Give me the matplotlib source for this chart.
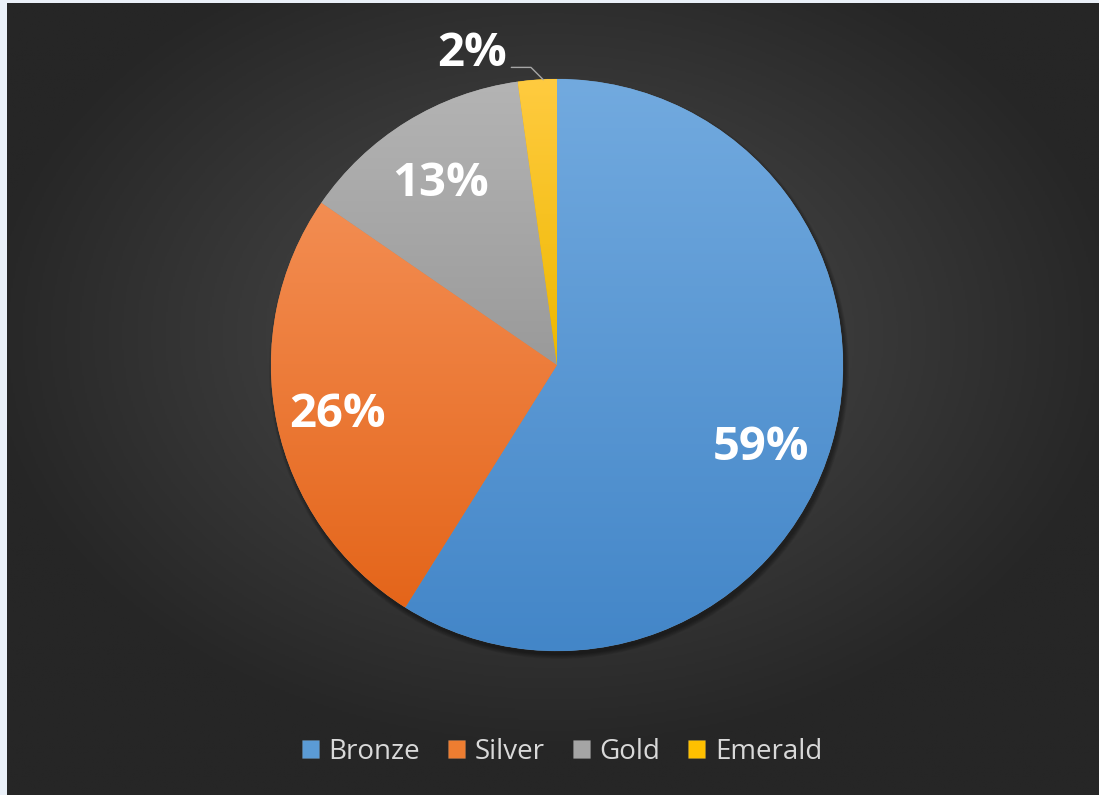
import numpy as np
import matplotlib
matplotlib.use('Agg')
import matplotlib.pyplot as plt
from matplotlib.patches import Circle
from matplotlib.colors import LinearSegmentedColormap

categories = ['Bronze', 'Silver', 'Gold', 'Emerald']
values = [58.9, 25.7, 13.2, 2.2]
top_colors = ['#72AADF', '#F38D52', '#B4B4B4', '#FFCB40']
bottom_colors = ['#4386C8', '#E4651A', '#9A9A9A', '#EEB800']
mid_colors = ['#5B9BD5', '#ED7D31', '#A5A5A5', '#FFC000']

W, H = 1099, 795
fig = plt.figure(figsize=(W / 100, H / 100), dpi=100)
fig.patch.set_facecolor('#eaf0f8')

# background panel with radial gradient
bg = fig.add_axes([7 / W, 0, 1 - 7 / W, 1 - 3 / H])
bg.axis('off')
yy, xx = np.mgrid[0:1:400j, 0:1:600j]
rr = np.sqrt(((xx - 0.5) / 0.85) ** 2 + ((yy - 0.42) / 0.85) ** 2)
bg.imshow(rr, cmap=LinearSegmentedColormap.from_list('bg', ['#4a4a4a', '#3a3a3a', '#262626']),
          aspect='auto', extent=[0, 1, 0, 1], vmin=0, vmax=0.62, origin='upper')
bg.set_xlim(0, 1)
bg.set_ylim(0, 1)

ax = fig.add_axes([0, 0, 1, 1])
ax.set_facecolor('none')
cx, cy, R = 557, H - 365, 286

# soft shadow
for i in range(6):
    ax.add_patch(Circle((cx + 2, cy - 4), R + i * 0.8, facecolor='black', alpha=0.07,
                        edgecolor='none', zorder=0))

def fmt(p):
    return '%d%%' % round(p) if p >= 5 else ''

wedges, texts, autotexts = ax.pie(values, center=(cx, cy), radius=R, startangle=90,
                                  counterclock=False, colors=mid_colors, autopct=fmt,
                                  pctdistance=0.77,
                                  wedgeprops=dict(linewidth=0.4, edgecolor=(1, 1, 1, 0.15)))
ax.set_xlim(0, W)
ax.set_ylim(0, H)
ax.set_aspect('equal')
ax.axis('off')

for w, tc, bc in zip(wedges, top_colors, bottom_colors):
    ext = w.get_path().get_extents(w.get_patch_transform())
    grad = np.linspace(0, 1, 256).reshape(-1, 1)
    cm = LinearSegmentedColormap.from_list('g', [tc, bc])
    im = ax.imshow(grad, cmap=cm, aspect='auto',
                   extent=[ext.x0, ext.x1, ext.y0, ext.y1], origin='upper', zorder=1.5)
    im.set_clip_path(w)
    ax.set_xlim(0, W)
    ax.set_ylim(0, H)

# best-fit style nudges for inside labels (pixels, x right / y up)
label_nudge = [(-8, -22), (-4, -5), (-1, -6), (0, 0)]
for t, (nx, ny) in zip(autotexts, label_nudge):
    x, y = t.get_position()
    t.set_position((x + nx, y + ny))
    t.set_color('white')
    t.set_fontsize(34)
    t.set_fontweight('bold')
    t.set_family('Open Sans')
    t.set_zorder(5)

# small slice label with leader line
w = wedges[3]
ang = np.deg2rad((w.theta1 + w.theta2) / 2)
ex, ey = cx + R * np.cos(ang), cy + R * np.sin(ang)
ax.annotate('%d%%' % round(values[3]), xy=(ex + 6, ey), xytext=(-26, 19), textcoords='offset points',
            ha='right', va='center', color='white', fontsize=34, fontweight='bold',
            family='Open Sans', zorder=5,
            arrowprops=dict(arrowstyle='-', color='#a6a6a6', lw=1, shrinkA=0, shrinkB=0,
                            relpos=(1.06, 0.2),
                            connectionstyle='angle,angleA=0,angleB=135,rad=0'))

fig.legend(handles=wedges, labels=categories, loc='center', bbox_to_anchor=(562 / W, 1 - 752 / H),
           ncol=4, frameon=False, handlelength=0.62, handleheight=0.62, handletextpad=0.35,
           columnspacing=1.0, prop=dict(family='Open Sans', size=20), labelcolor='#d9d9d9')

fig.savefig('out.png', dpi=100, facecolor=fig.get_facecolor())
